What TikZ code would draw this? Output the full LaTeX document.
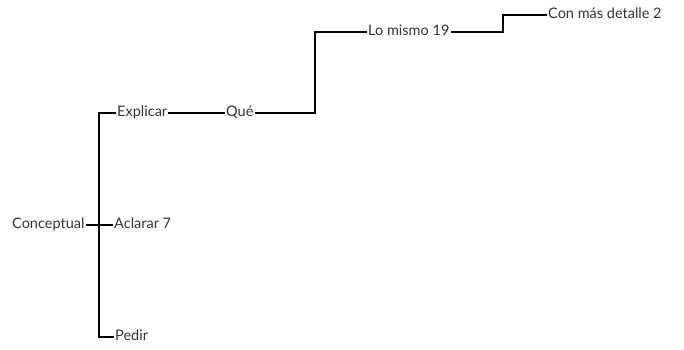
\documentclass[tikz,border=0pt]{standalone}
\usepackage{fontspec}
\setmainfont{Lato}
\begin{document}
\begin{tikzpicture}[x=1pt,y=1pt,
  lbl/.style={anchor=west, inner xsep=1pt, inner ysep=0pt, text height=0.72em, text depth=0pt,
    font=\fontsize{14.5}{17}\selectfont, text=black!80},
  link/.style={draw=black, line width=1.3pt}]
\useasboundingbox (0,0) rectangle (684,349);
\node[lbl] (conc) at (11,124) {Conceptual};
\node[lbl] (acl) at (113,124) {Aclarar 7};
\node[lbl] (expl) at (116,236) {Explicar};
\node[lbl] (que) at (225,236) {Qué};
\node[lbl] (pedir) at (114,12) {Pedir};
\node[lbl] (lm) at (367,317) {Lo mismo 19};
\node[lbl] (cmd) at (547,334) {Con más detalle 2};
\coordinate (j1) at (99,0);
\coordinate (j2) at (315,0);
\coordinate (j3) at (503,0);
\draw[link] (conc.east) -- (acl.west);
\draw[link] (expl.west) -- (expl.west -| j1) -- (pedir.west -| j1) -- (pedir.west);
\draw[link] (expl.east) -- (que.west);
\draw[link] (que.east) -- (que.east -| j2) -- (lm.west -| j2) -- (lm.west);
\draw[link] (lm.east) -- (lm.east -| j3) -- (cmd.west -| j3) -- (cmd.west);
\end{tikzpicture}
\end{document}
